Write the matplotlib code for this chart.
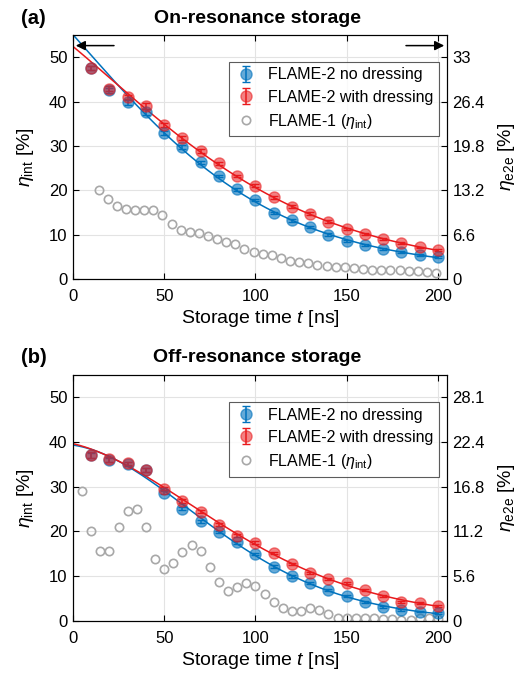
import numpy as np
import matplotlib.pyplot as plt

plt.rcParams["font.family"] = ["Liberation Sans", "DejaVu Sans"]
plt.rcParams["mathtext.fontset"] = "custom"
plt.rcParams["mathtext.rm"] = "Liberation Sans"
plt.rcParams["mathtext.it"] = "Liberation Sans:italic"

# storage times of the FLAME-2 points [ns]
t = np.arange(10, 201, 10)

# (a) on-resonance storage, eta_int [%]
on_nodress = [47.6, 42.5, 39.8, 37.6, 32.9, 29.7, 26.3, 23.2, 20.2, 17.8,
              14.9, 13.2, 11.7, 10.0, 8.6, 7.7, 6.8, 6.0, 5.4, 4.9]
on_dress = [47.6, 42.9, 41.0, 39.0, 34.7, 31.8, 28.8, 26.1, 23.2, 21.0,
            18.4, 16.3, 14.7, 12.9, 11.2, 10.2, 9.0, 8.1, 7.1, 6.6]
on_nodress_err = [0.5, 0.5, 0.5, 0.6, 0.4, 0.4, 0.3, 0.3, 0.3, 0.3,
                  0.3, 0.3, 0.3, 0.3, 0.2, 0.2, 0.2, 0.2, 0.2, 0.2]
on_dress_err = [0.5, 0.6, 0.5, 0.7, 0.4, 0.4, 0.4, 0.3, 0.3, 0.3,
                0.3, 0.3, 0.3, 0.3, 0.2, 0.2, 0.2, 0.2, 0.2, 0.2]
# fitted curves' value at t = 0 (no dressing, with dressing)
on_fit_start = [55.4, 52.6]
on_flame1_t = np.arange(14, 200, 5)
on_flame1 = [20.0, 18.1, 16.5, 15.8, 15.6, 15.6, 15.6, 14.4, 12.5, 11.0,
             10.5, 10.3, 9.7, 8.9, 8.4, 7.9, 6.7, 6.0, 5.6, 5.5,
             4.7, 4.1, 3.9, 3.6, 3.2, 3.0, 2.8, 2.6, 2.4, 2.2,
             2.0, 2.0, 2.0, 2.0, 1.9, 1.7, 1.5, 1.3]
on_e2e_labels = ["0", "6.6", "13.2", "19.8", "26.4", "33"]

# (b) off-resonance storage, eta_int [%]
off_nodress = [37.0, 36.0, 35.1, 33.7, 28.7, 25.1, 22.3, 19.9, 17.6, 15.0,
               12.1, 10.0, 8.5, 7.0, 5.6, 4.3, 3.2, 2.5, 2.1, 1.7]
off_dress = [37.1, 36.1, 35.2, 33.7, 29.6, 26.8, 24.4, 21.5, 19.1, 17.5,
             15.2, 12.7, 10.7, 9.4, 8.5, 7.0, 5.5, 4.3, 4.0, 3.4]
off_nodress_err = [0.5, 0.5, 0.4, 0.4, 0.4, 0.4, 0.3, 0.3, 0.3, 0.3,
                   0.3, 0.3, 0.3, 0.2, 0.2, 0.2, 0.2, 0.2, 0.2, 0.2]
off_dress_err = [0.6, 0.5, 0.4, 0.5, 0.4, 0.4, 0.3, 0.3, 0.3, 0.3,
                 0.3, 0.3, 0.3, 0.2, 0.2, 0.2, 0.2, 0.2, 0.2, 0.2]
off_fit_start = [39.4, 39.7]
off_flame1_t = np.arange(5, 201, 5)
off_flame1 = [29.1, 20.1, 15.6, 15.6, 21.0, 24.5, 25.1, 21.0, 13.9, 11.6,
              12.9, 15.5, 16.9, 15.6, 12.1, 8.6, 6.7, 7.5, 8.5, 7.9,
              6.0, 4.3, 3.0, 2.2, 2.2, 2.8, 2.4, 1.5, 0.7, 0.6,
              0.6, 0.6, 0.6, 0.4, 0.4, 0.2, 0.2, 0.6, 0.6, 0.4]
off_e2e_labels = ["0", "5.6", "11.2", "16.8", "22.4", "28.1"]

left_ticks = [0, 10, 20, 30, 40, 50]
x_ticks = [0, 50, 100, 150, 200]

blue = "#0072bd"
red = "#e8191c"
grey = "#a8a8a8"


def fit_curve(x, y, y0):
    # smooth decay through the points (polynomial in log space)
    xs = np.concatenate([[0], x])
    ys = np.concatenate([[y0], y])
    w = np.ones(len(xs))
    w[0] = 4
    coef = np.polyfit(xs, np.log(ys), 3, w=w)
    xx = np.linspace(0, 200, 300)
    return xx, np.exp(np.polyval(coef, xx))


def draw_panel(ax, nodress, nodress_err, dress, dress_err, fit_start, f1_t, f1, e2e_labels):
    xx, yy = fit_curve(t, nodress, fit_start[0])
    ax.plot(xx, yy, color=blue, lw=1.1, zorder=2)
    xx, yy = fit_curve(t, dress, fit_start[1])
    ax.plot(xx, yy, color=red, lw=1.1, zorder=2)

    h1 = ax.errorbar(t, nodress, yerr=nodress_err, fmt="o", color=blue, ms=8,
                     mfc=(0, 0.447, 0.741, 0.6), mec=(0, 0.447, 0.741, 0.6),
                     elinewidth=1.1, capsize=3, label="FLAME-2 no dressing", zorder=3)
    h2 = ax.errorbar(t, dress, yerr=dress_err, fmt="o", color=red, ms=8,
                     mfc=(0.91, 0.1, 0.11, 0.55), mec=(0.91, 0.1, 0.11, 0.55),
                     elinewidth=1.1, capsize=3, label="FLAME-2 with dressing", zorder=3)
    h3, = ax.plot(f1_t, f1, "o", ms=6, mfc="none", mec=grey, mew=1.2,
                  label=r"FLAME-1 ($\eta_{\rm int}$)", zorder=2)

    ax.set_xlim(0, 205)
    ax.set_ylim(0, 55)
    ax.set_xticks(x_ticks)
    ax.set_yticks(left_ticks)
    ax.grid(True, color="#e3e3e3", lw=0.8)
    ax.set_axisbelow(True)
    ax.tick_params(direction="in", labelsize=12, top=True, length=4, pad=4)
    ax.tick_params(axis="x", pad=7)
    ax.set_xlabel(r"Storage time $t$ [ns]", fontsize=14, labelpad=3)
    ax.set_ylabel(r"$\eta_{\rm int}$ [%]", fontsize=14, labelpad=9)

    leg = ax.legend(handles=[h1, h2, h3], loc="upper right", bbox_to_anchor=(0.978, 0.89),
                    fontsize=11.5, frameon=True, fancybox=False, edgecolor="#333333",
                    handletextpad=0.6, borderpad=0.35, labelspacing=0.45,
                    handlelength=1.5, borderaxespad=0)
    leg.get_frame().set_linewidth(0.8)

    ax2 = ax.twinx()
    ax2.set_ylim(0, 55)
    ax2.set_yticks(left_ticks)
    ax2.set_yticklabels(e2e_labels)
    ax2.tick_params(direction="in", labelsize=12, length=4, pad=4)
    ax2.set_ylabel(r"$\eta_{\rm e2e}$ [%]", fontsize=14, labelpad=8)
    return ax2


fig = plt.figure(figsize=(5.27, 6.76), dpi=100)

ax_a = fig.add_axes([0.1385, 0.5873, 0.7097, 0.361])
draw_panel(ax_a, on_nodress, on_nodress_err, on_dress, on_dress_err, on_fit_start,
           on_flame1_t, on_flame1, on_e2e_labels)
ax_a.annotate("", xy=(0, 52.6), xytext=(24, 52.6),
              arrowprops=dict(arrowstyle="-|>", color="black", lw=1.1, mutation_scale=14))
ax_a.annotate("", xy=(205, 52.6), xytext=(181, 52.6),
              arrowprops=dict(arrowstyle="-|>", color="black", lw=1.1, mutation_scale=14))

ax_b = fig.add_axes([0.1385, 0.0814, 0.7097, 0.364])
draw_panel(ax_b, off_nodress, off_nodress_err, off_dress, off_dress_err, off_fit_start,
           off_flame1_t, off_flame1, off_e2e_labels)

fig.text(0.488, 0.973, "On-resonance storage", fontsize=14, fontweight="bold",
         ha="center", va="center")
fig.text(0.04, 0.973, "(a)", fontsize=14.5, fontweight="bold", ha="left", va="center")
fig.text(0.488, 0.471, "Off-resonance storage", fontsize=14, fontweight="bold",
         ha="center", va="center")
fig.text(0.04, 0.471, "(b)", fontsize=14.5, fontweight="bold", ha="left", va="center")

fig.savefig("out.png", dpi=100)
